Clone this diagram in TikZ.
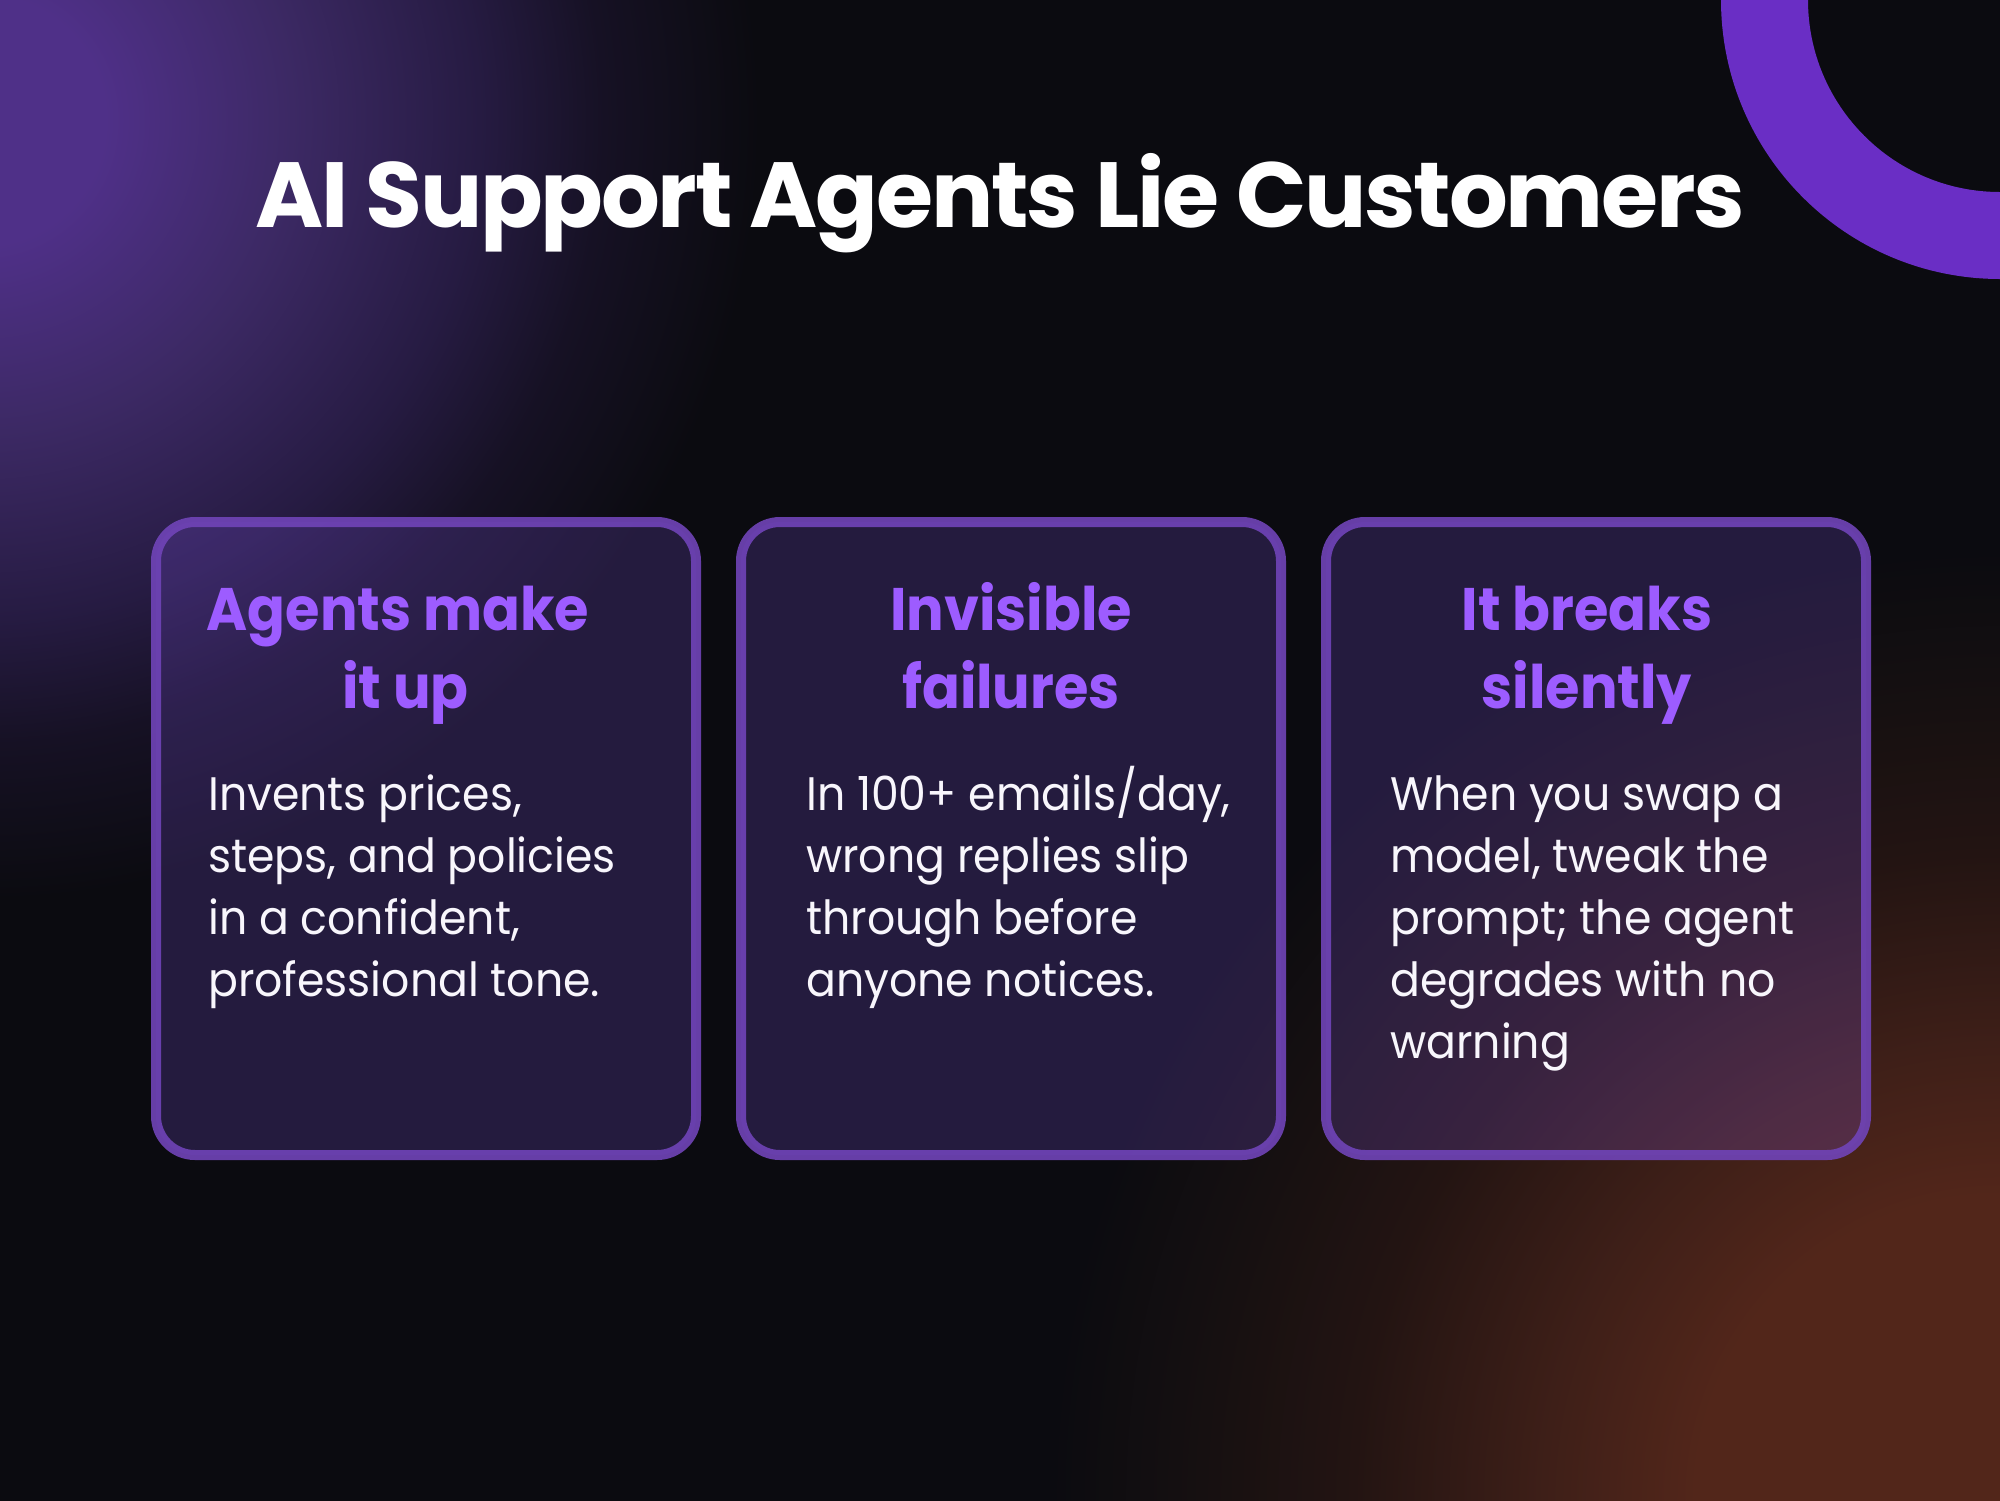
\documentclass[tikz,border=0pt]{standalone}
\usepackage{fontspec}
\usepackage{xcolor}
\setmainfont{Poppins}
\newfontfamily\titlefont[LetterSpace=-2.5]{Poppins}
\newfontfamily\headfont[FakeStretch=0.93]{Poppins}
\newfontfamily\bodyfont[FakeStretch=0.94]{Poppins}
\usetikzlibrary{positioning}
\definecolor{pagebg}{HTML}{0B0B10}
\definecolor{ringpurple}{HTML}{6A2EC5}
\definecolor{headpurple}{HTML}{9D5CFF}
\definecolor{cardpurple}{HTML}{8B5CF6}
\definecolor{cardedge}{HTML}{7044B8}
\definecolor{bodywhite}{HTML}{F8F6FC}
\definecolor{glowp}{HTML}{4F3088}
\definecolor{glowpa}{HTML}{3C2964}
\definecolor{glowpb}{HTML}{261B42}
\definecolor{glowpc}{HTML}{161124}
\definecolor{glowo}{HTML}{52261A}
\definecolor{glowoa}{HTML}{3E1F18}
\definecolor{glowob}{HTML}{231412}
\definecolor{glowoc}{HTML}{161011}
\pgfdeclareradialshading{purpleglow}{\pgfpoint{0bp}{0bp}}{color(0bp)=(glowp);color(4bp)=(glowp);color(10bp)=(glowpa);color(16bp)=(glowpb);color(20bp)=(glowpc);color(25bp)=(pagebg);color(50bp)=(pagebg)}
\pgfdeclareradialshading{orangeglow}{\pgfpoint{0bp}{0bp}}{color(0bp)=(glowo);color(8bp)=(glowo);color(12bp)=(glowoa);color(17bp)=(glowob);color(21bp)=(glowoc);color(25bp)=(pagebg);color(50bp)=(pagebg)}
\begin{document}
\begin{tikzpicture}[x=1pt,y=-1pt,
  card/.style={draw=cardedge,draw opacity=0.9,fill=cardpurple,fill opacity=0.2,text opacity=1,
    line width=10pt,rounded corners=39pt,minimum width=540pt,minimum height=633pt,inner sep=0pt},
  cardhead/.style={align=center,inner sep=0pt,anchor=base,text=headpurple,
    font=\headfont\bfseries\fontsize{60}{78}\selectfont},
  cardbody/.style={align=left,inner sep=0pt,anchor=base west,text=bodywhite,
    font=\bodyfont\fontsize{47}{62}\selectfont}]
  \useasboundingbox (0,0) rectangle (2000,1500);
  \fill[pagebg] (-5,-5) rectangle (2005,1505);
  % glows
  \path[shading=purpleglow] (-20,120) circle (780);
  \path[shading=orangeglow] (2000,1500) circle (950);
  % ring
  \draw[ringpurple,line width=87pt] (2000,0) circle (235.5);
  \node[inner sep=0pt,anchor=base,text=white,font=\titlefont\bfseries\fontsize{92.5}{110}\selectfont] (title) at (1000,227) {AI Support Agents Lie Customers};
  % cards
  \node[card] (cardA) at (426,838.5) {};
  \node[card] (cardB) at (1011,838.5) {};
  \node[card] (cardC) at (1596,838.5) {};
  \node[cardhead] (headA) at (398,708) {Agents make\\\hspace*{15pt}it up};
  \node[cardhead] (headB) at (1011,708) {Invisible\\failures};
  \node[cardhead] (headC) at (1587,708) {It breaks\\silently};
  \node[cardbody] (bodyA) at (208,996) {Invents prices,\\steps, and policies\\in a confident,\\professional tone.};
  \node[cardbody] (bodyB) at (806,996) {In 100+ emails/day,\\wrong replies slip\\through before\\anyone notices.};
  \node[cardbody] (bodyC) at (1390,1058) {When you swap a\\model, tweak the\\prompt; the agent\\degrades with no\\warning};
\end{tikzpicture}
\end{document}
